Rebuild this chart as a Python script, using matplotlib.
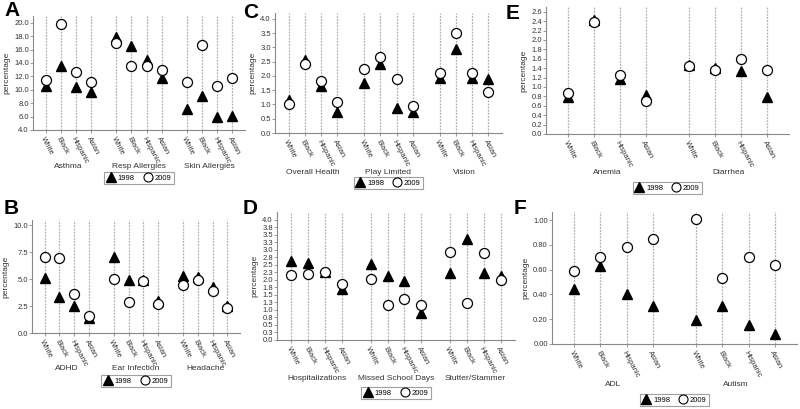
"""Six-panel dot plot: prevalence by race, 1998 vs 2009."""

import matplotlib as mpl
import numpy as np

mpl.use("Agg")
import matplotlib.pyplot as plt
from matplotlib.lines import Line2D

plt.rcParams["font.family"] = ["Liberation Sans", "DejaVu Sans"]

races = ["White", "Black", "Hispanic", "Asian"]

# panel A
a_groups = ["Asthma", "Resp Allergies", "Skin Allergies"]
a_1998 = [[10.6, 13.5, 10.4, 9.6], [17.9, 16.5, 14.4, 11.7], [7.1, 9.1, 6.0, 6.1]]
a_2009 = [[11.5, 19.8, 12.7, 11.2], [16.9, 13.6, 13.6, 13.0], [11.1, 16.7, 10.6, 11.7]]

# panel B
b_groups = ["ADHD", "Ear Infection", "Headache"]
b_1998 = [[5.1, 3.3, 2.5, 1.4], [7.1, 4.9, 4.9, 3.0], [5.3, 5.2, 4.3, 2.5]]
b_2009 = [[7.1, 7.0, 3.6, 1.6], [5.0, 2.9, 4.8, 2.7], [4.5, 4.9, 3.9, 2.3]]

# panel C
c_groups = ["Overall Health", "Play Limited", "Vision"]
c_1998 = [[1.15, 2.54, 1.65, 0.73], [1.74, 2.41, 0.89, 0.74], [1.92, 2.95, 1.92, 1.89]]
c_2009 = [[1.01, 2.40, 1.83, 1.09], [2.25, 2.65, 1.89, 0.95], [2.09, 3.51, 2.09, 1.42]]

# panel D
d_groups = ["Hospitalizations", "Missed School Days", "Stutter/Stammer"]
d_1998 = [[2.62, 2.56, 2.27, 1.68], [2.51, 2.13, 1.97, 0.88], [2.21, 3.34, 2.21, 2.12]]
d_2009 = [[2.17, 2.19, 2.26, 1.86], [2.01, 1.15, 1.37, 1.16], [2.93, 1.24, 2.90, 1.99]]

# panel E
e_groups = ["Anemia", "Diarrhea"]
e_1998 = [[0.78, 2.43, 1.17, 0.83], [1.46, 1.41, 1.35, 0.78]]
e_2009 = [[0.87, 2.38, 1.25, 0.70], [1.44, 1.37, 1.59, 1.36]]

# panel F
f_groups = ["ADL", "Autism"]
f_1998 = [[0.44, 0.63, 0.40, 0.31], [0.19, 0.31, 0.15, 0.08]]
f_2009 = [[0.59, 0.70, 0.78, 0.85], [1.01, 0.535, 0.70, 0.64]]

W, H = 800, 409
GRAY = "#888888"
TXT = "#333333"


def fmt1(v):
    return f"{np.floor(v * 10 + 0.5) / 10:.1f}"


def panel(fig, box, letter, lpos, groups, v98, v09, ylim, yticks, ylabels,
          glab_dy, leg_dy):
    left, right, top, bottom = box
    ax = fig.add_axes([left / W, 1 - bottom / H, (right - left) / W, (bottom - top) / H])
    step = 4.67
    xs, names = [], []
    for g in range(len(groups)):
        for i in range(4):
            xs.append(g * step + i)
            names.append(races[i])
    xs = np.array(xs)
    y98 = np.concatenate(v98)
    y09 = np.concatenate(v09)
    for x in xs:
        ax.axvline(x, color="#b0b0b0", lw=0.9, ls=(0, (1.5, 1)), zorder=1)
    ax.plot(xs, y98, ls="none", marker="^", ms=7.5, color="black", zorder=3)
    ax.plot(xs, y09, ls="none", marker="o", ms=7.2, mfc="white", mec="black",
            mew=0.9, zorder=4)
    ax.set_xlim(xs[0] - 0.85, xs[-1] + 0.85)
    ax.set_ylim(*ylim)
    ax.set_yticks(yticks)
    ax.set_yticklabels(ylabels)
    ax.set_xticks(xs)
    ax.set_xticklabels(names, rotation=-62, ha="left", va="top",
                       rotation_mode="anchor", fontsize=5.5, color=TXT)
    ax.tick_params(axis="y", labelsize=5.5, labelcolor=TXT, length=2,
                   width=0.6, color=GRAY, pad=1)
    ax.tick_params(axis="x", length=2, width=0.6, color=GRAY, pad=2)
    for s in ("top", "right"):
        ax.spines[s].set_visible(False)
    for s in ("left", "bottom"):
        ax.spines[s].set_color(GRAY)
        ax.spines[s].set_linewidth(0.8)
    ax.set_ylabel("percentage", fontsize=6, color=TXT, labelpad=3)
    for g, name in enumerate(groups):
        cx = g * step + 1.5
        ax.annotate(name, xy=(cx, 0), xycoords=("data", "axes fraction"),
                    xytext=(0, -glab_dy), textcoords="offset pixels",
                    ha="center", va="center", fontsize=6, color=TXT)
    handles = [
        Line2D([], [], ls="none", marker="^", ms=6.5, color="black"),
        Line2D([], [], ls="none", marker="o", ms=6.5, mfc="white", mec="black", mew=0.8),
    ]
    hpx = bottom - top
    leg = ax.legend(handles, ["1998", "2009"], ncol=2, loc="center",
                    bbox_to_anchor=(0.5, -leg_dy / hpx), fontsize=5.5,
                    frameon=True, fancybox=False, handlelength=1.0,
                    handletextpad=0.4, columnspacing=1.2, borderpad=0.35)
    leg.get_frame().set_edgecolor(GRAY)
    leg.get_frame().set_linewidth(0.8)
    fig.text(lpos[0] / W, 1 - lpos[1] / H, letter, fontsize=15, fontweight="bold",
             ha="left", va="top")
    return ax


fig = plt.figure(figsize=(8, 4.09), dpi=100)

panel(fig, (33, 245, 16, 130), "A", (4, 1), a_groups, a_1998, a_2009,
      (4, 21), np.arange(4, 20.1, 2), [f"{v:.1f}" for v in np.arange(4, 20.1, 2)],
      36, 48)
panel(fig, (32, 240, 220, 333), "B", (4, 199), b_groups, b_1998, b_2009,
      (0, 10.5), np.arange(0, 10.1, 2.5), [f"{v:.1f}" for v in np.arange(0, 10.1, 2.5)],
      36, 48)
panel(fig, (275, 502, 13, 133), "C", (243, 3), c_groups, c_1998, c_2009,
      (0, 4.2), np.arange(0, 4.01, 0.5), [f"{v:.1f}" for v in np.arange(0, 4.01, 0.5)],
      40, 50)
panel(fig, (277, 515, 212, 340), "D", (243, 199), d_groups, d_1998, d_2009,
      (0, 4.25), np.arange(0, 4.01, 0.25), [fmt1(v) for v in np.arange(0, 4.01, 0.25)],
      39, 53)
panel(fig, (546, 789, 7, 134), "E", (506, 4), e_groups, e_1998, e_2009,
      (0, 2.7), np.arange(0, 2.61, 0.2), [f"{v:.1f}" for v in np.arange(0, 2.61, 0.2)],
      39, 54)
panel(fig, (552, 797, 212, 344), "F", (514, 199), f_groups, f_1998, f_2009,
      (0, 1.065), np.arange(0, 1.01, 0.2), [f"{v:.2f}" for v in np.arange(0, 1.01, 0.2)],
      41, 56)

fig.savefig("out.png", dpi=100)
plt.close(fig)
